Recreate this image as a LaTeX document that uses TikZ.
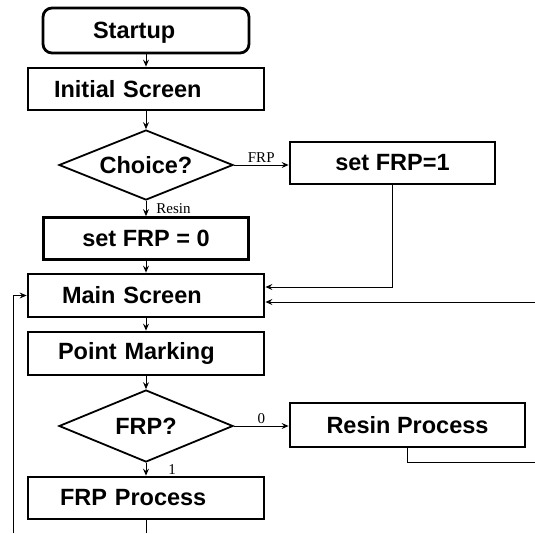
\documentclass[tikz,border=0pt]{standalone}
\usepackage{fontspec}
\setmainfont{Liberation Serif}
\setsansfont{Liberation Sans}
\usetikzlibrary{shapes.geometric}
\usetikzlibrary{arrows.meta}

\begin{document}
\begin{tikzpicture}[x=1pt, y=-1pt, >={Stealth[length=7pt,width=6pt,inset=2.5pt]},
    box/.style={draw, line width=2.8pt, minimum height=42pt, font=\sffamily\bfseries\fontsize{23.5}{28}\selectfont},
    widebox/.style={box, text width=176pt, inner xsep=30pt, align=left},
    decision/.style={diamond, draw, line width=1.8pt, aspect=2.5, minimum width=174pt, minimum height=70pt, inner sep=0pt, font=\sffamily\bfseries\fontsize{23.5}{28}\selectfont},
    flow/.style={->, line width=0.9pt},
    line/.style={-, line width=0.9pt},
    lbl/.style={font=\fontsize{15}{17}\selectfont, inner sep=2pt}]

\useasboundingbox (0,0) rectangle (535,533);

% boxes
\node[box, rounded corners=9pt, minimum height=45pt, text width=106pt, inner xsep=50pt, align=left, text depth=0pt] (start) at (146,30.5) {Startup};
\node[widebox, inner xsep=26pt, text width=184pt] (init) at (146,89) {Initial Screen};
\node[decision] (choice) at (146,165) {Choice?};
\node[box, minimum width=205pt] (frp1) at (392.5,163) {set FRP=1};
\node[box, minimum width=205pt] (frp0) at (146,238.5) {set FRP = 0};
\node[widebox, minimum height=43pt, inner xsep=34pt, text width=168pt] (main) at (146,295.5) {Main Screen};
\node[widebox, minimum height=43pt] (mark) at (146,353.5) {Point Marking};
\node[decision, minimum height=72pt] (frpq) at (146,426) {FRP?};
\node[box, minimum width=235pt, minimum height=44pt] (resin) at (407.5,425) {Resin Process};
\node[widebox, inner xsep=32pt, text width=172pt] (frpproc) at (146,498) {FRP Process};

% loose ends at the border
\coordinate (rin) at (535,302);
\coordinate (rout) at (535,462);
\coordinate (bot) at (146,533);
\coordinate (lft) at (13,533);

    \foreach \a/\b in {start/init, init/choice, frp0/main, main/mark, mark/frpq}
        \draw[flow] (\a) -- (\b);

    \draw[flow] (choice.south) -- node[lbl, right=8pt] {Resin} (frp0.north);
    \draw[flow] (choice.east) -- node[lbl, above] {FRP} (choice.east -| frp1.west);
    \draw[flow] (frpq.east) -- node[lbl, above] {0} (frpq.east -| resin.west);
    \draw[flow] (frpq.south) -- node[lbl, right=20pt] {1} (frpproc.north);

    \draw[flow] (frp1.south) |- ([yshift=8.5pt]main.east);
    \draw[flow] (rin) -- ([yshift=-6.5pt]main.east);
    \draw[line] (resin.south) |- (rout);
    \draw[line] (frpproc.south) -- (bot);
    \draw[flow] (lft) |- (main.west);

\end{tikzpicture}
\end{document}
